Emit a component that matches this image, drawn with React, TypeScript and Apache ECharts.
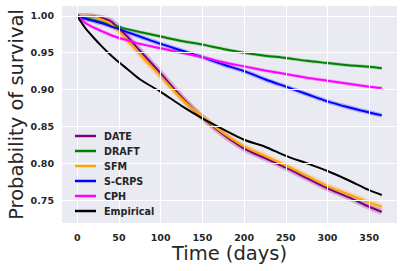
import React, { useEffect, useRef } from "react";
import * as echarts from "echarts";

const times = [0, 5, 10, 20, 30, 40, 50, 60, 75, 100, 125, 150, 175, 200, 225, 250, 275, 300, 325, 350, 365];
const dateVals = [1.0, 1.0, 1.0, 0.999, 0.997, 0.993, 0.983, 0.972, 0.953, 0.922, 0.89, 0.862, 0.839, 0.82, 0.807, 0.794, 0.78, 0.766, 0.754, 0.741, 0.734];
const draftVals = [1.0, 0.998, 0.997, 0.994, 0.991, 0.988, 0.985, 0.982, 0.978, 0.972, 0.966, 0.961, 0.955, 0.95, 0.946, 0.943, 0.939, 0.936, 0.933, 0.931, 0.929];
const sfmVals = [1.0, 1.0, 1.0, 0.999, 0.995, 0.989, 0.979, 0.967, 0.948, 0.918, 0.888, 0.863, 0.841, 0.823, 0.81, 0.797, 0.783, 0.769, 0.758, 0.747, 0.741];
const scrpsVals = [1.0, 0.998, 0.996, 0.993, 0.99, 0.986, 0.982, 0.978, 0.972, 0.962, 0.953, 0.944, 0.934, 0.925, 0.914, 0.904, 0.894, 0.884, 0.876, 0.869, 0.865];
const cphVals = [1.0, 0.995, 0.99, 0.984, 0.979, 0.974, 0.97, 0.967, 0.962, 0.956, 0.95, 0.944, 0.937, 0.9315, 0.926, 0.921, 0.916, 0.912, 0.908, 0.904, 0.902];
const empiricalVals = [1.0, 0.991, 0.983, 0.97, 0.958, 0.947, 0.937, 0.928, 0.914, 0.897, 0.878, 0.861, 0.846, 0.832, 0.8225, 0.81, 0.8, 0.7895, 0.777, 0.7635, 0.757];

const xTicks = [0, 50, 100, 150, 200, 250, 300, 350];
const yTicks = [0.75, 0.8, 0.85, 0.9, 0.95, 1.0];

const seriesDefs = [
  { name: "DATE", values: dateVals, color: "#800080", band: 6 },
  { name: "DRAFT", values: draftVals, color: "#008000", band: 3.5 },
  { name: "SFM", values: sfmVals, color: "#FFA500", band: 6 },
  { name: "S-CRPS", values: scrpsVals, color: "#0000FF", band: 4.5 },
  { name: "CPH", values: cphVals, color: "#FF00FF", band: 3.5 },
  { name: "Empirical", values: empiricalVals, color: "#000000", band: 0 },
];

export default function App() {
  const ref = useRef<HTMLDivElement>(null);
  useEffect(() => {
    if (!ref.current) return;
    const chart = echarts.init(ref.current, null, { renderer: "svg" });
    const series: any[] = [];
    series.push({
      name: "grid_lines",
      type: "line",
      data: [],
      silent: true,
      z: 0,
      markLine: {
        silent: true,
        symbol: "none",
        animation: false,
        label: { show: false },
        lineStyle: { color: "#FFFFFF", width: 1, type: "solid" },
        emphasis: { disabled: true },
        data: [
          ...xTicks.map((v) => ({ xAxis: v })),
          ...yTicks.map((v) => ({ yAxis: v })),
        ],
      },
    });
    seriesDefs.forEach((s) => {
      if (s.band > 0) {
        series.push({
          name: s.name + "_band",
          type: "line",
          data: times.map((t, i) => [t, s.values[i]]),
          showSymbol: false,
          smooth: 0.3,
          silent: true,
          lineStyle: { color: s.color, width: s.band, opacity: 0.25 },
          z: 1,
        });
      }
    });
    seriesDefs.forEach((s) => {
      series.push({
        name: s.name,
        type: "line",
        data: times.map((t, i) => [t, s.values[i]]),
        showSymbol: false,
        smooth: 0.3,
        color: s.color,
        lineStyle: { color: s.color, width: 2 },
        z: 3,
      });
    });
    chart.setOption({
      animation: false,
      grid: {
        left: 62,
        right: 6,
        top: 6,
        bottom: 48,
        show: true,
        backgroundColor: "#EAEAF2",
        borderWidth: 0,
        containLabel: false,
        outerBoundsMode: "none",
      },
      legend: {
        data: seriesDefs.map((s) => ({ name: s.name, icon: "rect" })),
        orient: "vertical",
        left: 70,
        top: 125,
        z: 10,
        itemWidth: 21,
        itemHeight: 2.5,
        itemGap: 3,
        textStyle: {
          fontFamily: "DejaVu Sans",
          fontWeight: "bold",
          fontSize: 9.6,
          color: "#262626",
          lineHeight: 12,
          padding: [0, 0, 0, 3],
        },
      },
      xAxis: {
        type: "value",
        min: -18.25,
        max: 383.25,
        name: "Time (days)",
        nameLocation: "middle",
        nameGap: 20,
        nameMoveOverlap: false,
        nameTextStyle: { fontFamily: "DejaVu Sans", fontSize: 19.5, color: "#262626" },
        axisLine: { show: false },
        axisTick: { show: false, customValues: xTicks },
        axisLabel: {
          customValues: xTicks,
          fontFamily: "DejaVu Sans",
          fontWeight: "bold",
          fontSize: 9.5,
          color: "#262626",
          margin: 9,
        },
        splitLine: { show: false },
      },
      yAxis: {
        type: "value",
        min: 0.719,
        max: 1.0134,
        name: "Probability of survival",
        nameLocation: "middle",
        nameGap: 36,
        nameRotate: 90,
        nameMoveOverlap: false,
        nameTextStyle: { fontFamily: "DejaVu Sans", fontSize: 19.5, color: "#262626" },
        axisLine: { show: false },
        axisTick: { show: false, customValues: yTicks },
        axisLabel: {
          customValues: yTicks,
          fontFamily: "DejaVu Sans",
          fontWeight: "bold",
          fontSize: 9.5,
          color: "#262626",
          margin: 8,
          formatter: (v: number) => v.toFixed(2),
        },
        splitLine: { show: false },
      },
      series,
    });
    return () => chart.dispose();
  }, []);
  return (
    <div
      ref={ref}
      style={{ position: "fixed", left: 0, top: 0, width: 403, height: 271, background: "#FFFFFF" }}
    />
  );
}
